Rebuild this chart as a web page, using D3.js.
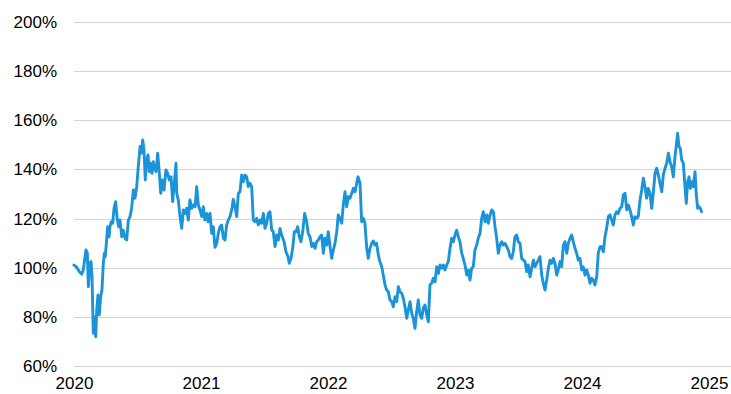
<!DOCTYPE html>
<html>
<head>
<meta charset="utf-8">
<script src="https://cdn.jsdelivr.net/npm/d3@7"></script>
<style>
  html, body { margin: 0; padding: 0; background: #ffffff; }
  svg { display: block; }
  text { font-family: "Liberation Sans", Arial, sans-serif; fill: #000; }
</style>
</head>
<body>
<svg id="chart" width="731" height="394"></svg>
<script>
// Time offsets (years since start of 2020) for each observation
const yearOffsets = [
  0.000,0.021,0.042,0.061,0.073,0.094,0.105,0.113,0.126,0.134,0.142,0.152,0.160,0.171,0.179,0.189,0.199,0.210,0.220,0.231,
  0.239,0.246,0.257,0.265,0.276,0.283,0.294,0.305,0.315,0.328,0.341,0.352,0.362,0.376,0.388,0.402,0.415,0.428,0.441,0.454,
  0.467,0.480,0.494,0.506,0.520,0.530,0.541,0.551,0.561,0.572,0.583,0.593,0.604,0.614,0.624,0.635,0.646,0.659,0.672,0.683,
  0.695,0.709,0.724,0.738,0.750,0.764,0.777,0.790,0.803,0.809,0.821,0.835,0.848,0.861,0.874,0.887,0.900,0.913,0.927,0.939,
  0.953,0.966,0.979,0.992,1.006,1.018,1.031,1.045,1.057,1.071,1.084,1.097,1.110,1.124,1.136,1.150,1.163,1.176,1.189,1.202,
  1.215,1.228,1.242,1.254,1.268,1.281,1.294,1.307,1.320,1.333,1.346,1.360,1.372,1.386,1.399,1.412,1.425,1.439,1.451,1.465,
  1.478,1.491,1.504,1.517,1.530,1.543,1.557,1.569,1.583,1.596,1.609,1.622,1.635,1.654,1.669,1.685,1.695,1.709,1.722,1.735,
  1.748,1.761,1.774,1.787,1.801,1.816,1.832,1.844,1.858,1.872,1.884,1.898,1.911,1.924,1.937,1.950,1.963,1.976,1.990,2.002,
  2.016,2.029,2.042,2.055,2.069,2.081,2.094,2.108,2.120,2.134,2.147,2.160,2.173,2.187,2.199,2.213,2.226,2.236,2.252,2.265,
  2.278,2.291,2.305,2.317,2.331,2.344,2.357,2.370,2.383,2.396,2.409,2.423,2.435,2.449,2.462,2.475,2.488,2.502,2.514,2.528,
  2.541,2.554,2.567,2.580,2.593,2.606,2.620,2.632,2.646,2.659,2.672,2.685,2.698,2.711,2.724,2.738,2.750,2.764,2.777,2.790,
  2.803,2.817,2.829,2.843,2.856,2.869,2.882,2.895,2.908,2.921,2.935,2.947,2.961,2.974,2.987,3.000,3.013,3.026,3.039,3.053,
  3.065,3.079,3.092,3.105,3.118,3.131,3.144,3.157,3.171,3.183,3.197,3.210,3.223,3.236,3.250,3.262,3.276,3.289,3.302,3.315,
  3.328,3.341,3.354,3.368,3.380,3.394,3.407,3.420,3.433,3.446,3.459,3.472,3.486,3.498,3.512,3.525,3.538,3.551,3.565,3.577,
  3.591,3.604,3.617,3.630,3.643,3.656,3.669,3.683,3.695,3.709,3.722,3.735,3.748,3.761,3.774,3.787,3.801,3.813,3.827,3.840,
  3.853,3.866,3.880,3.892,3.906,3.919,3.931,3.945,3.958,3.971,3.984,3.998,4.010,4.024,4.037,4.050,4.063,4.076,4.089,4.102,
  4.116,4.128,4.142,4.155,4.168,4.181,4.194,4.207,4.220,4.234,4.246,4.260,4.273,4.286,4.299,4.313,4.325,4.339,4.352,4.365,
  4.378,4.391,4.404,4.417,4.431,4.443,4.457,4.470,4.483,4.496,4.509,4.522,4.535,4.549,4.561,4.575,4.588,4.601,4.614,4.628,
  4.640,4.654,4.667,4.680,4.693,4.706,4.719,4.732,4.746,4.753,4.764,4.774,4.785,4.798,4.811,4.821,4.832,4.843,4.853,4.864,
  4.876,4.890,4.900,4.911,4.921,4.931,4.942
];

// Relative level (%) at each observation
const levels = [
  101.1,100.2,98.4,97.4,99.1,107.2,106.0,92.3,101.8,102.5,96.3,73.3,80.1,71.9,82.8,88.9,80.8,88.2,90.9,101.8,
  105.9,104.5,111.3,116.7,112.6,116.7,118.7,118.1,124.2,126.9,119.4,116.7,119.4,112.6,115.3,112.0,111.3,119.4,120.8,124.2,
  131.6,128.3,133.0,141.1,149.3,146.6,152.0,147.9,135.7,143.8,145.9,139.1,142.5,138.4,143.1,140.5,139.1,146.6,138.4,130.3,
  135.7,131.6,139.8,138.4,135.7,137.0,126.9,134.4,142.5,130.3,127.6,120.8,116.0,123.5,122.1,124.2,119.4,127.6,124.2,125.5,
  124.8,133.0,125.5,123.5,120.8,124.8,119.4,122.1,118.7,122.1,114.0,116.7,108.3,109.9,114.0,116.7,117.4,112.0,111.3,117.4,
  119.4,120.8,123.5,127.8,124.8,120.8,130.3,130.9,137.7,135.0,137.7,137.0,133.0,134.4,133.0,119.4,118.7,120.1,117.4,119.4,
  118.1,122.1,116.0,118.1,122.1,122.8,115.3,114.7,108.6,113.3,111.3,116.0,113.3,110.6,106.5,104.5,101.8,103.8,107.9,114.7,
  114.7,116.7,112.6,110.6,114.7,122.1,118.7,114.0,112.6,108.6,109.9,107.9,110.6,111.3,112.6,113.3,105.9,112.0,109.2,114.7,
  108.6,103.8,107.2,109.9,114.7,121.5,120.1,118.1,125.5,130.9,124.8,128.9,128.3,130.3,132.3,130.9,134.4,137.0,134.4,118.7,
  120.1,118.1,107.9,103.8,107.9,109.9,110.9,109.2,109.9,105.2,102.4,100.4,97.0,93.0,90.9,90.2,86.9,86.2,84.1,88.2,
  86.2,92.3,90.2,89.6,87.6,84.1,79.4,82.8,86.2,81.4,79.4,75.3,82.1,86.9,80.8,79.4,83.5,84.8,80.8,78.0,
  93.0,93.7,95.7,94.3,100.4,97.7,101.1,99.8,101.1,99.1,101.1,102.5,107.9,112.0,110.6,113.3,115.3,112.6,110.6,105.9,
  103.8,101.1,97.0,99.1,95.0,99.8,100.4,107.2,109.2,112.0,114.0,120.1,122.8,118.7,121.5,118.1,121.5,123.5,122.8,116.7,
  112.0,105.9,109.2,110.6,109.2,109.9,108.6,107.2,104.5,103.8,106.5,112.6,113.3,110.6,109.9,103.8,103.1,102.5,98.4,101.1,
  96.3,99.8,103.1,100.4,101.8,103.1,104.5,97.0,93.7,90.9,95.0,99.8,103.1,101.8,103.8,101.8,97.0,99.1,102.5,100.4,
  109.2,110.6,105.9,109.9,112.0,113.3,110.6,107.9,105.9,103.1,103.8,99.1,100.4,97.0,99.1,97.0,93.7,95.7,95.0,93.0,
  96.3,105.9,108.6,108.6,106.5,112.6,116.0,120.8,121.5,119.4,117.4,121.5,122.8,122.1,124.2,124.8,129.6,130.3,123.5,125.5,
  123.5,120.8,117.4,120.8,120.1,120.8,127.6,131.6,136.4,133.0,128.3,132.3,130.3,124.2,130.3,138.4,140.5,137.7,134.4,130.9,
  137.7,140.5,142.5,146.6,143.1,141.1,137.0,145.2,151.3,154.7,149.3,148.6,143.8,142.5,133.0,126.2,135.0,137.0,132.3,135.0,
  133.0,139.1,129.6,124.2,124.8,124.2,122.8
];

const startYear = 2020;
const yTickValues = [60, 80, 100, 120, 140, 160, 180, 200];
const xTickValues = [2020, 2021, 2022, 2023, 2024, 2025];

const series = yearOffsets.map((t, i) => ({ year: startYear + t, value: levels[i] }));

const svg = d3.select("#chart");
const width = 731, height = 394;
const margin = { top: 22, right: 22, bottom: 28, left: 74 };

const x = d3.scaleLinear()
  .domain([2020, 2025])
  .range([margin.left, width - margin.right]);

const y = d3.scaleLinear()
  .domain([60, 200])
  .range([height - margin.bottom, margin.top]);

// Horizontal gridlines running to the right edge
svg.append("g")
  .selectAll("line")
  .data(yTickValues)
  .join("line")
  .attr("x1", margin.left)
  .attr("x2", width)
  .attr("y1", d => Math.round(y(d)) + 0.5)
  .attr("y2", d => Math.round(y(d)) + 0.5)
  .attr("stroke", "#d4d4d4")
  .attr("stroke-width", 1.2);

// Y axis labels
const yAxis = d3.axisLeft(y)
  .tickValues(yTickValues)
  .tickFormat(d => d + "%")
  .tickSize(0)
  .tickPadding(0);

const gy = svg.append("g")
  .attr("transform", `translate(${margin.left - 17},0)`)
  .call(yAxis);
gy.select(".domain").remove();
gy.selectAll("text")
  .attr("font-size", 17)
  .attr("font-family", "Liberation Sans, Arial, sans-serif")
  .attr("fill", "#000");

// X axis labels
const xAxis = d3.axisBottom(x)
  .tickValues(xTickValues)
  .tickFormat(d3.format("d"))
  .tickSize(0)
  .tickPadding(0);

const gx = svg.append("g")
  .attr("transform", `translate(0,${height - 11})`)
  .call(xAxis);
gx.select(".domain").remove();
gx.selectAll("text")
  .attr("font-size", 17)
  .attr("font-family", "Liberation Sans, Arial, sans-serif")
  .attr("fill", "#000")
  .attr("dy", "0.38em");

// Series line
const line = d3.line()
  .x(d => x(d.year))
  .y(d => y(d.value));

svg.append("path")
  .datum(series)
  .attr("fill", "none")
  .attr("stroke", "#1b93d8")
  .attr("stroke-width", 2.9)
  .attr("stroke-linejoin", "round")
  .attr("stroke-linecap", "round")
  .attr("d", line);
</script>
</body>
</html>
